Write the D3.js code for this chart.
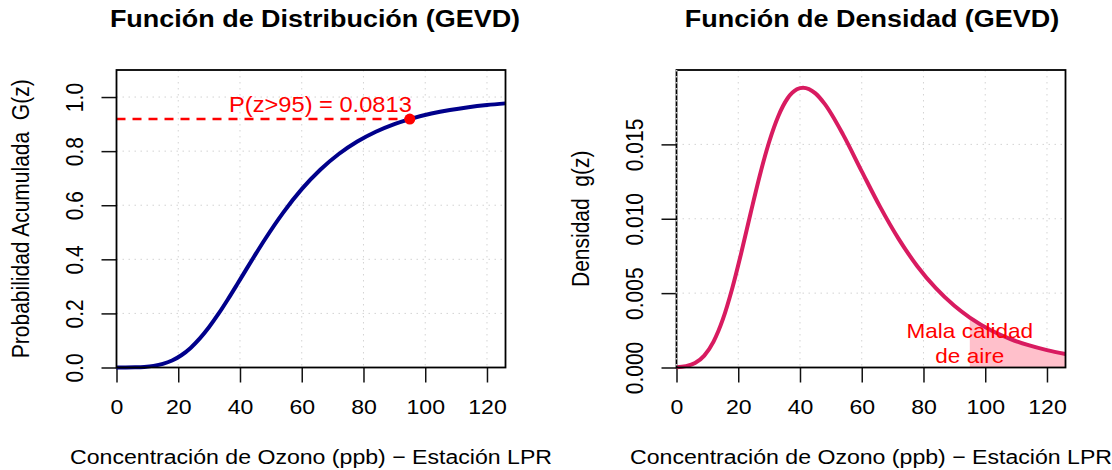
<!DOCTYPE html>
<html>
<head>
<meta charset="utf-8">
<script src="https://cdn.jsdelivr.net/npm/d3@7"></script>
<style>
  body { margin: 0; background: #fff; }
  text { font-family: "Liberation Sans", Arial, Helvetica, sans-serif; }
</style>
</head>
<body>
<svg id="chart" width="1112" height="470"></svg>
<script>
// Ozone concentration (ppb) at which the fitted GEV curves are tabulated
const ozone = [0, 3, 6, 9, 12, 15, 18, 21, 24, 27, 30, 33, 36, 39, 41, 45, 48, 54, 60,
               66, 72, 78, 84, 90, 95, 102, 108, 114, 120, 126];
// Cumulative probability G(z)
const cdfValues = [0.00003, 0.00017, 0.00071, 0.00226, 0.00593, 0.01323, 0.02587,
                   0.04530, 0.07244, 0.10744, 0.14965, 0.19791, 0.25056, 0.30589,
                   0.34344, 0.41817, 0.47248, 0.57287, 0.65939, 0.73120, 0.78930, 0.83540,
                   0.87167, 0.89995, 0.91863, 0.93895, 0.95215, 0.96241, 0.97038, 0.97658];
// Probability density g(z)
const densityValues = [0.00002, 0.00009, 0.00030, 0.00080, 0.00174, 0.00323, 0.00528,
                       0.00773, 0.01037, 0.01293, 0.01516, 0.01691, 0.01810, 0.01870,
                       0.01881, 0.01843, 0.01772, 0.01564, 0.01319, 0.01078, 0.00863, 0.00681,
                       0.00533, 0.00415, 0.00336, 0.00249, 0.00193, 0.00150, 0.00117, 0.00091];

const xTicks = [0, 20, 40, 60, 80, 100, 120];
const cdfTicks = [0, 0.2, 0.4, 0.6, 0.8, 1.0];
const cdfTickLabels = ["0.0", "0.2", "0.4", "0.6", "0.8", "1.0"];
const densityTicks = [0, 0.005, 0.010, 0.015];
const densityTickLabels = ["0.000", "0.005", "0.010", "0.015"];

const threshold = 95;          // ppb, poor air quality limit
const exceedance = 0.0813;     // P(z > 95)

const titles = ["Función de Distribución (GEVD)", "Función de Densidad (GEVD)"];
const xTitle = "Concentración de Ozono (ppb) \u2212 Estación LPR";
const yTitles = ["Probabilidad Acumulada  G(z)", "Densidad  g(z)"];
const poorAirLabel = ["Mala calidad", "de aire"];

const SX = 1.1;        // horizontal stretch applied to all lettering
const TICK = 15;
const FONT = 21;

const svg = d3.select("#chart");
const plotTop = 70, plotBottom = 367.5;

function panel(x0, x1, yDomain) {
  return {
    x: d3.scaleLinear().domain([0, 126]).range([x0, x1]),
    y: d3.scaleLinear().domain(yDomain).range([plotBottom, plotTop]),
    x0, x1
  };
}

const leftPanel = panel(116.5, 505.5, [0, 1.1]);
const rightPanel = panel(676.5, 1065.5, [0, 0.02]);

function hText(g, x, y, str, size, opts = {}) {
  return g.append("text")
    .attr("transform", `translate(${x},${y}) scale(${SX},1)`)
    .attr("text-anchor", opts.anchor || "middle")
    .attr("font-size", size)
    .attr("font-weight", opts.bold ? "bold" : null)
    .attr("fill", opts.fill || "#000")
    .style("white-space", "pre")
    .text(str);
}

function vText(g, x, y, str, size) {
  return g.append("text")
    .attr("transform", `translate(${x},${y}) rotate(-90) scale(1,${SX})`)
    .attr("text-anchor", "middle")
    .attr("font-size", size)
    .attr("fill", "#000")
    .style("white-space", "pre")
    .text(str);
}

function drawFrame(p, yTicks, yLabels, idx) {
  const g = svg.append("g");
  // dotted grid
  const grid = g.append("g").attr("stroke", "#d3d3d3").attr("stroke-width", 1)
    .attr("stroke-dasharray", "1.5,4.5");
  grid.selectAll("line.v").data(xTicks).join("line")
    .attr("x1", d => p.x(d)).attr("x2", d => p.x(d))
    .attr("y1", plotTop).attr("y2", plotBottom);
  grid.selectAll("line.h").data(yTicks).join("line")
    .attr("x1", p.x0).attr("x2", p.x1)
    .attr("y1", d => p.y(d)).attr("y2", d => p.y(d));

  // x axis
  const ax = g.append("g").attr("transform", `translate(0,${plotBottom})`)
    .call(d3.axisBottom(p.x).tickValues(xTicks).tickSize(TICK).tickSizeOuter(0).tickFormat(d3.format("d")));
  ax.select(".domain").remove();
  ax.selectAll(".tick line").attr("stroke", "#111").attr("stroke-width", 1.5);
  ax.selectAll(".tick text")
    .attr("y", 0).attr("dy", null)
    .attr("transform", `translate(0,46) scale(${SX},1)`)
    .attr("font-size", FONT).attr("fill", "#000")
    .style("font-family", '"Liberation Sans", Arial, sans-serif');

  // y axis
  const ay = g.append("g").attr("transform", `translate(${p.x0},0)`)
    .call(d3.axisLeft(p.y).tickValues(yTicks).tickSize(TICK).tickSizeOuter(0)
      .tickFormat((d, i) => yLabels[i]));
  ay.select(".domain").remove();
  ay.selectAll(".tick line").attr("stroke", "#111").attr("stroke-width", 1.5);
  ay.selectAll(".tick text")
    .attr("x", 0).attr("y", 0).attr("dy", null)
    .attr("text-anchor", "middle")
    .attr("transform", `translate(-34,0) rotate(-90) scale(1,${SX})`)
    .attr("font-size", FONT).attr("fill", "#000")
    .style("font-family", '"Liberation Sans", Arial, sans-serif');

  // titles
  hText(g, (p.x0 + p.x1) / 2 + (idx === 0 ? 4 : 1), 27, titles[idx], 24.5, { bold: true });
  hText(g, (p.x0 + p.x1) / 2, 464, xTitle, FONT);
  vText(g, p.x0 - 88, (plotTop + plotBottom) / 2, yTitles[idx], FONT);
  return g;
}

function drawBox(g, p) {
  g.append("rect")
    .attr("x", p.x0).attr("y", plotTop)
    .attr("width", p.x1 - p.x0).attr("height", plotBottom - plotTop)
    .attr("fill", "none").attr("stroke", "#000").attr("stroke-width", 1.8);
}

const cdfData = ozone.map((z, i) => ({ z, v: cdfValues[i] }));
const densData = ozone.map((z, i) => ({ z, v: densityValues[i] }));

// ---- left panel: distribution function ----
{
  const p = leftPanel;
  const g = drawFrame(p, cdfTicks, cdfTickLabels, 0);
  const line = d3.line().x(d => p.x(d.z)).y(d => p.y(d.v)).curve(d3.curveMonotoneX);
  g.append("path").datum(cdfData)
    .attr("d", line).attr("fill", "none")
    .attr("stroke", "#00008B").attr("stroke-width", 4);

  const level = 1 - exceedance;
  g.append("line")
    .attr("x1", p.x(0)).attr("x2", p.x(threshold))
    .attr("y1", p.y(level)).attr("y2", p.y(level))
    .attr("stroke", "#ff0000").attr("stroke-width", 2.5)
    .attr("stroke-dasharray", "9,7");
  g.append("circle")
    .attr("cx", p.x(threshold)).attr("cy", p.y(level)).attr("r", 5.5)
    .attr("fill", "#ff0000");
  hText(g, p.x(threshold) + 2, p.y(level) - 7, `P(z>${threshold}) = ${exceedance}`, 21.5,
    { anchor: "end", fill: "#ff0000" });
  drawBox(g, p);
}

// ---- right panel: density function ----
{
  const p = rightPanel;
  const g = drawFrame(p, densityTicks, densityTickLabels, 1);
  const tail = densData.filter(d => d.z >= threshold);
  const area = d3.area().x(d => p.x(d.z)).y0(p.y(0)).y1(d => p.y(d.v)).curve(d3.curveMonotoneX);
  g.append("path").datum(tail).attr("d", area).attr("fill", "#FFC0CB");

  const line = d3.line().x(d => p.x(d.z)).y(d => p.y(d.v)).curve(d3.curveMonotoneX);
  g.append("path").datum(densData)
    .attr("d", line).attr("fill", "none")
    .attr("stroke", "#D81B60").attr("stroke-width", 4);

  hText(g, p.x(threshold), 338, poorAirLabel[0], 20.5, { fill: "#ff0000" });
  hText(g, p.x(threshold), 363, poorAirLabel[1], 20.5, { fill: "#ff0000" });
  drawBox(g, p);
  // dotted grid line along the left edge, drawn over the frame
  g.append("line")
    .attr("x1", p.x(0)).attr("x2", p.x(0)).attr("y1", plotTop).attr("y2", plotBottom)
    .attr("stroke", "#cfcfcf").attr("stroke-width", 1.8)
    .attr("stroke-dasharray", "1.5,4.5");
}
</script>
</body>
</html>
